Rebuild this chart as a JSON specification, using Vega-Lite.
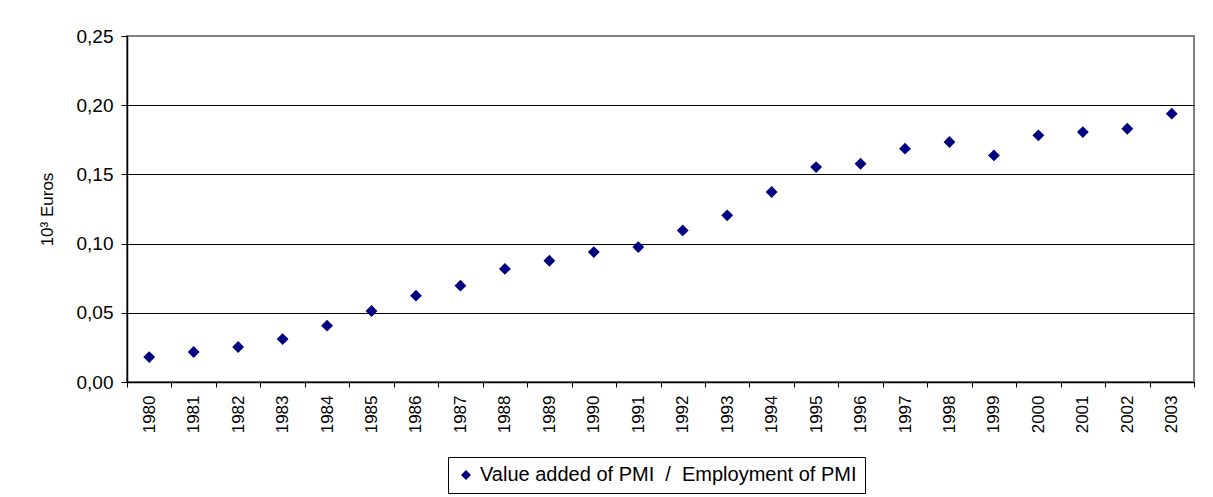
{
  "$schema": "https://vega.github.io/schema/vega-lite/v6.json",
  "autosize": "none",
  "width": 1067,
  "height": 346,
  "padding": {"left": 127, "top": 36, "right": 19, "bottom": 115},
  "background": "white",
  "config": {
    "font": "Liberation Sans",
    "view": {"stroke": "#808080", "strokeWidth": 2},
    "axis": {"labelColor": "black", "titleColor": "black", "domainColor": "black", "tickColor": "black", "labelFont": "Liberation Sans", "titleFont": "Liberation Sans"}
  },
  "data": {
    "values": [
      {"year": "1980", "value": 0.018},
      {"year": "1981", "value": 0.0217},
      {"year": "1982", "value": 0.0253},
      {"year": "1983", "value": 0.031},
      {"year": "1984", "value": 0.0407},
      {"year": "1985", "value": 0.0513},
      {"year": "1986", "value": 0.0624},
      {"year": "1987", "value": 0.0696},
      {"year": "1988", "value": 0.0817},
      {"year": "1989", "value": 0.0876},
      {"year": "1990", "value": 0.0939},
      {"year": "1991", "value": 0.0975},
      {"year": "1992", "value": 0.1095},
      {"year": "1993", "value": 0.1204},
      {"year": "1994", "value": 0.1373},
      {"year": "1995", "value": 0.1553},
      {"year": "1996", "value": 0.1577},
      {"year": "1997", "value": 0.1686},
      {"year": "1998", "value": 0.1734},
      {"year": "1999", "value": 0.1637},
      {"year": "2000", "value": 0.1782},
      {"year": "2001", "value": 0.1806},
      {"year": "2002", "value": 0.183},
      {"year": "2003", "value": 0.1939}
    ]
  },
  "mark": {"type": "point", "shape": "diamond", "filled": true, "opacity": 1, "size": 140},
  "encoding": {
    "x": {
      "field": "year", "type": "ordinal",
      "scale": {"type": "band", "paddingInner": 0, "paddingOuter": 0},
      "axis": {"title": null, "labelAngle": -90, "labelFontSize": 17, "labelPadding": 8, "tickBand": "extent", "tickSize": 5, "domainWidth": 1.5, "grid": false}
    },
    "y": {
      "field": "value", "type": "quantitative",
      "scale": {"domain": [0, 0.25], "nice": false, "zero": true},
      "axis": {
        "values": [0, 0.05, 0.1, 0.15, 0.2, 0.25],
        "labelExpr": "replace(format(datum.value, '.2f'), '.', ',')",
        "labelFontSize": 19, "labelPadding": 8, "tickSize": 6, "domainWidth": 1.5,
        "grid": true,
        "gridColor": {"condition": {"test": "datum.value >= 0.25", "value": "#808080"}, "value": "black"},
        "gridOpacity": 1,
        "title": "10³ Euros", "titleFontSize": 17, "titleFontWeight": "normal", "titlePadding": 20
      }
    },
    "color": {
      "datum": "Value added of PMI\u00a0 /\u00a0 Employment of PMI",
      "type": "nominal",
      "scale": {"range": ["#000080"]},
      "legend": {
        "title": null, "orient": "none", "legendX": 321, "legendY": 421,
        "symbolType": "diamond", "symbolSize": 100, "symbolOpacity": 1,
        "labelFontSize": 20, "labelColor": "black", "labelLimit": 600,
        "strokeColor": "black", "padding": 8, "fillColor": "white"
      }
    }
  }
}
